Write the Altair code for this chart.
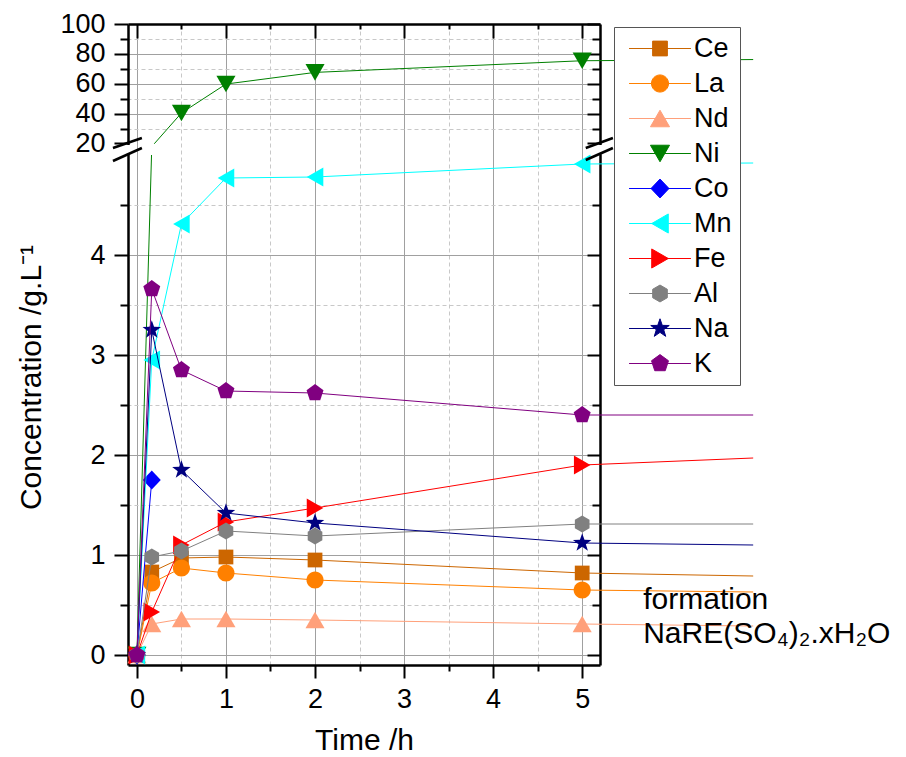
import math
import altair as alt
import pandas as pd

FONT = "Liberation Sans, Arial, Helvetica, sans-serif"

# ---------------- data ----------------
ELEMENTS = ["Ce", "La", "Nd", "Ni", "Co", "Mn", "Fe", "Al", "Na", "K"]
TIMES = [0, 0.167, 0.5, 1, 2, 5, 6.92]
CE = [0, 0.83, 0.97, 0.98, 0.95, 0.82, 0.79]
LA = [0, 0.72, 0.87, 0.82, 0.75, 0.65, 0.63]
ND = [0, 0.31, 0.36, 0.36, 0.35, 0.31, 0.29]
NI = [0, 16.0, 40.4, 59.8, 67.6, 75.4, 76.2]
CO = [0, 1.75, None, None, None, None, None]
MN = [0, 2.95, 4.31, 4.77, 4.78, 4.91, 4.92]
FE = [0, 0.43, 1.10, 1.33, 1.47, 1.90, 1.97]
AL = [0, 0.98, 1.04, 1.24, 1.19, 1.31, 1.31]
NA = [0, 3.25, 1.85, 1.42, 1.32, 1.12, 1.10]
K_ = [0, 3.66, 2.85, 2.64, 2.62, 2.40, 2.40]
SERIES = [CE, LA, ND, NI, CO, MN, FE, AL, NA, K_]

X_MAJOR = [0, 1, 2, 3, 4, 5]
X_MINOR = [0.5, 1.5, 2.5, 3.5, 4.5]
Y_LOW_MAJOR = [0, 1, 2, 3, 4]
Y_LOW_MINOR = [0.5, 1.5, 2.5, 3.5, 4.5]
Y_HIGH_MAJOR = [20, 40, 60, 80, 100]
Y_HIGH_MINOR = [30, 50, 70, 90]
Y_HIGH_GRID = [40, 60, 80]

ANNOTATION = ["formation", "NaRE(SO\u2084)\u2082.xH\u2082O"]
ANNOTATION_POS = [(5.685, 0.46), (5.685, 0.12)]

# ---------------- style ----------------
COLORS = ["#cc6600", "#ff8000", "#ffa07a", "#008000", "#0000ff",
          "#00ffff", "#ff0000", "#808080", "#000080", "#800080"]

# broken y axis: 0-5 (100 px / unit) then 20-100 compressed
Y_TOP_U = 6.31
GAP_U = 0.115
U20 = 5 + GAP_U
TOP_K = (Y_TOP_U - U20) / 80


def to_u(v):
    if v <= 5:
        return v
    if v < 20:
        return 5 + (v - 5) * GAP_U / 15
    return U20 + (v - 20) * TOP_K


U_EXPR = (f"datum.v <= 5 ? datum.v : (datum.v < 20 ? 5 + (datum.v - 5) * {GAP_U} / 15"
          f" : {U20} + (datum.v - 20) * {TOP_K})")


def poly(pts):
    return "M" + "L".join(f"{x:.3f},{y:.3f}" for x, y in pts) + "Z"


def regular(n, r):
    return poly([(r * math.cos(math.radians(-90 + 360 * k / n)),
                  r * math.sin(math.radians(-90 + 360 * k / n))) for k in range(n)])


def star(ro, ri):
    pts = []
    for k in range(10):
        r = ro if k % 2 == 0 else ri
        a = math.radians(-90 + 36 * k)
        pts.append((r * math.cos(a), r * math.sin(a)))
    return poly(pts)


def circle(r):
    return f"M{r},0A{r},{r},0,1,1,{-r},0A{r},{r},0,1,1,{r},0Z"


MARKERS = [
    poly([(-0.82, -0.82), (0.82, -0.82), (0.82, 0.82), (-0.82, 0.82)]),
    circle(0.95),
    poly([(0, -0.92), (1.06, 0.92), (-1.06, 0.92)]),
    poly([(0, 0.92), (1.06, -0.92), (-1.06, -0.92)]),
    poly([(0, -1.05), (1.0, 0), (0, 1.05), (-1.0, 0)]),
    poly([(-0.92, 0), (0.92, -1.06), (0.92, 1.06)]),
    poly([(0.92, 0), (-0.92, -1.06), (-0.92, 1.06)]),
    regular(6, 0.94),
    star(1.08, 0.43),
    regular(5, 0.99),
]
LEGEND_PATHS = ["M-3.44,0H3.44" + m for m in MARKERS]
MARKER_SIZE = 324

rows = []
for el, vals in zip(ELEMENTS, SERIES):
    for t, v in zip(TIMES, vals):
        if v is not None:
            rows.append({"element": el, "t": t, "v": v})
df = pd.DataFrame(rows)

# decorations for the axis break (data units)
BREAK_SLASHES = pd.DataFrame({
    "t1": [-0.269, -0.269, 5.04, 5.04],
    "u1": [5.07, 4.94, 5.07, 4.95],
    "t2": [0.056, 0.056, 5.345, 5.345],
    "u2": [5.17, 5.07, 5.17, 5.07],
})
BREAK_MASKS = pd.DataFrame({
    "t1": [-0.135, 0.03, 5.165],
    "t2": [-0.065, 0.45, 5.235],
    "u1": [5.008, 5.0, 5.008],
    "u2": [5.10, 5.113, 5.10],
})
text_df = pd.DataFrame({"label": ANNOTATION,
                        "t": [p[0] for p in ANNOTATION_POS],
                        "u": [p[1] for p in ANNOTATION_POS]})

W = 472
H = int(round((Y_TOP_U + 0.1) * 100))
XS = alt.Scale(domain=[-0.1, 5.2], nice=False, zero=False)
YS = alt.Scale(domain=[-0.1, Y_TOP_U], nice=False, zero=False)
TOP_PAD = 16

base = alt.Chart(df).transform_calculate(u=U_EXPR)
XE = alt.X("t:Q", scale=XS, axis=None)
YE = alt.Y("u:Q", scale=YS, axis=None)


def axis_layer(channel, axis):
    if channel == "x":
        enc = dict(x=alt.X("t:Q", scale=XS, axis=axis), y=YE)
    else:
        enc = dict(x=XE, y=alt.Y("u:Q", scale=YS, axis=axis))
    return base.mark_point(opacity=0, size=1).encode(**enc)


GRID_SOLID = "#a0a0a0"
GRID_DASH = "#c8c8c8"
y_major_u = [to_u(v) for v in Y_LOW_MAJOR + Y_HIGH_MAJOR]
y_minor_u = [to_u(v) for v in Y_LOW_MINOR + Y_HIGH_MINOR]
y_grid_major_u = [to_u(v) for v in Y_LOW_MAJOR + Y_HIGH_GRID]

label_expr = (f"datum.value < 5.05 ? format(round(datum.value), 'd') : "
              f"format(round((datum.value - {U20}) / {TOP_K} + 20), 'd')")

layers = [
    # grids
    axis_layer("x", alt.Axis(values=X_MAJOR, grid=True, gridColor=GRID_SOLID, gridWidth=1,
                             domain=False, ticks=False, labels=False, title=None)),
    axis_layer("x", alt.Axis(values=X_MINOR, grid=True, gridColor=GRID_DASH, gridWidth=1,
                             gridDash=[4, 3], domain=False, ticks=False, labels=False, title=None)),
    axis_layer("y", alt.Axis(values=y_grid_major_u, grid=True, gridColor=GRID_SOLID, gridWidth=1,
                             domain=False, ticks=False, labels=False, title=None)),
    axis_layer("y", alt.Axis(values=y_minor_u, grid=True, gridColor=GRID_DASH, gridWidth=1,
                             gridDash=[4, 3], domain=False, ticks=False, labels=False, title=None)),
    # bottom axis
    axis_layer("x", alt.Axis(orient="bottom", values=X_MAJOR, format="d", tickSize=13,
                             labelPadding=8, grid=False, title="Time /h", titleY=84,
                             titleBaseline="alphabetic")),
    axis_layer("x", alt.Axis(orient="bottom", values=X_MINOR, tickSize=6, labels=False,
                             domain=False, grid=False, title=None)),
    # top axis (inward ticks)
    axis_layer("x", alt.Axis(orient="bottom", offset=-H, values=X_MAJOR, tickSize=14,
                             labels=False, grid=False, title=None)),
    axis_layer("x", alt.Axis(orient="bottom", offset=-H, values=X_MINOR, tickSize=5,
                             labels=False, domain=False, grid=False, title=None)),
    # left axis
    axis_layer("y", alt.Axis(orient="left", values=y_major_u, labelExpr=label_expr, tickSize=14,
                             labelPadding=9, grid=False, title="Concentration /g.L\u207b\u00b9",
                             titleX=-88, titleY=377 - 8 - TOP_PAD, titleAngle=270,
                             titleBaseline="alphabetic", titleAlign="center")),
    axis_layer("y", alt.Axis(orient="left", values=y_minor_u, tickSize=8, labels=False,
                             domain=False, grid=False, title=None)),
    # right axis (inward ticks)
    axis_layer("y", alt.Axis(orient="left", offset=-W, values=y_major_u, tickSize=13,
                             labels=False, grid=False, title=None)),
    axis_layer("y", alt.Axis(orient="left", offset=-W, values=y_minor_u, tickSize=8,
                             labels=False, domain=False, grid=False, title=None)),
]

# series: line then markers, one element after the other (drawing order as in the reference)
series_layers = []
for el, col, path in zip(ELEMENTS, COLORS, MARKERS):
    sub = base.transform_filter(alt.datum.element == el)
    series_layers.append(
        sub.mark_line(strokeWidth=1, clip=False, color=col).encode(
            x=XE, y=YE, order=alt.Order("t:Q"))
    )
    series_layers.append(
        sub.transform_filter("datum.t <= 5 && (datum.v <= 5 || datum.v >= 20)")
        .mark_point(filled=True, opacity=1, size=MARKER_SIZE, shape=path, color=col,
                    strokeWidth=0, clip=False)
        .encode(x=XE, y=YE)
    )

# the 5-20 gap of the broken axis is left blank
masks = alt.Chart(BREAK_MASKS).mark_rect(color="white", clip=False).encode(
    x=alt.X("t1:Q", scale=XS, axis=None), x2="t2:Q",
    y=alt.Y("u1:Q", scale=YS, axis=None), y2="u2:Q",
)

slashes = alt.Chart(BREAK_SLASHES).mark_rule(color="black", strokeWidth=2.5, clip=False).encode(
    x=alt.X("t1:Q", scale=XS, axis=None), x2="t2:Q",
    y=alt.Y("u1:Q", scale=YS, axis=None), y2="u2:Q",
)

text = alt.Chart(text_df).mark_text(align="left", baseline="alphabetic", font=FONT,
                                    fontSize=30, color="black").encode(
    x=alt.X("t:Q", scale=XS, axis=None),
    y=alt.Y("u:Q", scale=YS, axis=None),
    text="label:N",
)

LEG = alt.Legend(title=None, orient="none", legendX=486, legendY=27 - 8 - TOP_PAD,
                 direction="vertical",
                 padding=8, fillColor="white", strokeColor="#555555",
                 labelFont=FONT, labelFontSize=27, labelColor="black",
                 symbolSize=MARKER_SIZE, symbolStrokeWidth=1, symbolOffset=24.5,
                 labelOffset=20.5, rowPadding=7)

legend_layer = base.transform_filter("datum.t < -1").mark_point(
    filled=True, opacity=1, strokeWidth=1).encode(
    x=XE, y=YE,
    fill=alt.Fill("element:N", scale=alt.Scale(domain=ELEMENTS, range=COLORS), legend=LEG),
    stroke=alt.Stroke("element:N", scale=alt.Scale(domain=ELEMENTS, range=COLORS), legend=LEG),
    shape=alt.Shape("element:N", scale=alt.Scale(domain=ELEMENTS, range=LEGEND_PATHS), legend=LEG),
)

chart = alt.layer(*layers, *series_layers, masks, slashes, text, legend_layer).resolve_axis(
    x="independent", y="independent"
).properties(
    width=W, height=H,
    padding={"left": 120, "top": TOP_PAD, "right": 298, "bottom": 100},
    autosize=alt.AutoSizeParams(type="none"),
    background="white",
).configure_view(stroke=None).configure_axis(
    labelFont=FONT, labelFontSize=27, labelColor="black",
    tickColor="black", tickWidth=2, domainColor="black", domainWidth=2.5,
    titleFont=FONT, titleFontSize=30, titleFontWeight="normal", titleColor="black",
    labelOverlap=False, labelFlush=False,
)

chart.save("out.html", embed_options={"renderer": "svg", "actions": False})
